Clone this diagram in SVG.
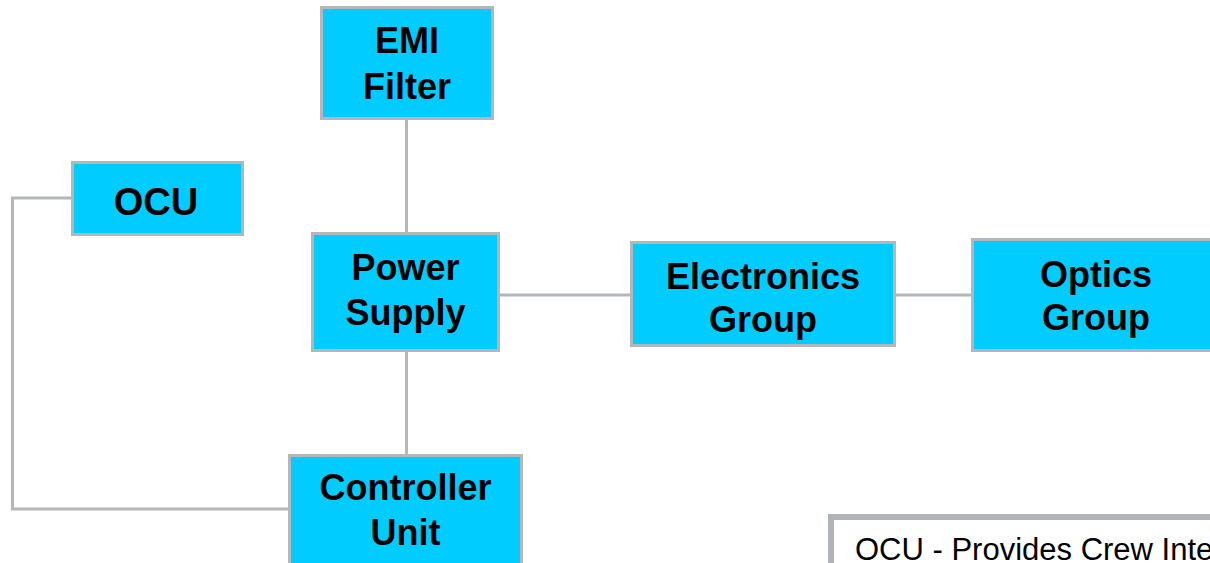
<svg xmlns="http://www.w3.org/2000/svg" width="1210" height="563" viewBox="0 0 1210 563">
<style>
.box{fill:#00ccff;stroke:#b3b7ba;stroke-width:3}
.lbl{font-family:"Liberation Sans",Arial,sans-serif;font-weight:bold;font-size:36px;fill:#000;text-anchor:middle}
.conn{fill:none;stroke:#b3b7ba;stroke-width:3}
.note{font-family:"Liberation Sans",Arial,sans-serif;font-size:31px;fill:#000}
</style>
<rect width="1210" height="563" fill="#fff"/>
<g id="connectors">
<line class="conn" x1="406.5" y1="119" x2="406.5" y2="233"/>
<line class="conn" x1="406.5" y1="351" x2="406.5" y2="455"/>
<line class="conn" x1="499" y1="295" x2="631" y2="295"/>
<line class="conn" x1="895" y1="295" x2="972" y2="295"/>
<polyline class="conn" points="72,198 12.5,198 12.5,509 289,509"/>
</g>
<g id="emi">
<rect class="box" x="321.5" y="7.5" width="171" height="111"/>
<text class="lbl" x="407" y="53">EMI</text>
<text class="lbl" x="407" y="99">Filter</text>
</g>
<g id="ocu">
<rect class="box" x="72.5" y="162.5" width="170" height="72"/>
<text class="lbl" x="156" y="215" style="font-size:38px">OCU</text>
</g>
<g id="power">
<rect class="box" x="312.5" y="233.5" width="186" height="117"/>
<text class="lbl" x="405.5" y="280">Power</text>
<text class="lbl" x="405.5" y="325">Supply</text>
</g>
<g id="electronics">
<rect class="box" x="631.5" y="242.5" width="263" height="103"/>
<text class="lbl" x="763" y="289">Electronics</text>
<text class="lbl" x="763" y="332">Group</text>
</g>
<g id="optics">
<rect class="box" x="972.5" y="239.5" width="248" height="111"/>
<text class="lbl" x="1096" y="287">Optics</text>
<text class="lbl" x="1096" y="330">Group</text>
</g>
<g id="controller">
<rect class="box" x="289.5" y="455.5" width="232" height="120"/>
<text class="lbl" x="405.5" y="500">Controller</text>
<text class="lbl" x="405.5" y="545">Unit</text>
</g>
<g id="note">
<rect x="831" y="517" width="420" height="120" fill="#fff" stroke="#b0b4b7" stroke-width="6"/>
<text class="note" x="855" y="560">OCU - Provides Crew Inte</text>
</g>
</svg>
